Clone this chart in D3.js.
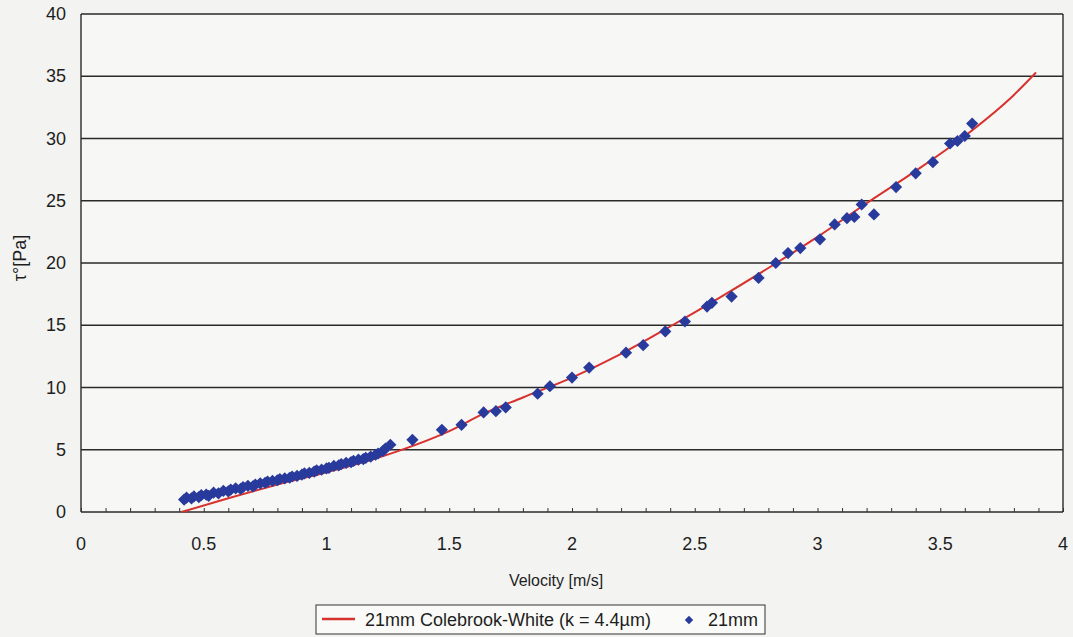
<!DOCTYPE html>
<html>
<head>
<meta charset="utf-8">
<script src="https://cdn.jsdelivr.net/npm/d3@7"></script>
<style>
  html, body { margin: 0; padding: 0; background: #f3f3f1; }
  svg { display: block; font-family: "Liberation Sans", Arial, sans-serif; }
</style>
</head>
<body>
<div id="chart"></div>
<script>
// Colebrook-White curve (velocity m/s, wall shear stress Pa)
const curveV   = [0.41, 0.6, 0.8, 1.0, 1.2, 1.3, 1.5, 1.64, 1.8, 2.0, 2.2, 2.4, 2.6, 2.8, 3.0, 3.2, 3.4, 3.6, 3.8, 3.89];
const curveTau = [0, 1.1, 2.2, 3.2, 4.3, 4.95, 6.5, 7.9, 9.2, 10.8, 12.7, 14.9, 17.2, 19.6, 22.1, 24.8, 27.4, 30.2, 33.5, 35.3];

// measured 21mm points
const measV = [0.42, 0.43, 0.45, 0.46, 0.48, 0.49, 0.51, 0.52, 0.54, 0.56, 0.58, 0.60, 0.61, 0.63, 0.65,
  0.66, 0.68, 0.70, 0.71, 0.73, 0.75, 0.76, 0.78, 0.80, 0.81, 0.83, 0.85, 0.86, 0.88, 0.90, 0.91, 0.93,
  0.95, 0.96, 0.98, 1.00, 1.01, 1.03, 1.05, 1.06, 1.08, 1.10, 1.11, 1.13, 1.15, 1.16, 1.18, 1.20, 1.21,
  1.23, 1.24, 1.26, 1.35, 1.47, 1.55, 1.64, 1.69, 1.73, 1.86, 1.91, 2.00, 2.07, 2.22, 2.29, 2.38, 2.46,
  2.55, 2.57, 2.65, 2.76, 2.83, 2.88, 2.93, 3.01, 3.07, 3.12, 3.15, 3.18, 3.23, 3.32, 3.40, 3.47, 3.54,
  3.57, 3.60, 3.63];
const measTau = [1.0, 1.15, 1.1, 1.25, 1.2, 1.35, 1.4, 1.3, 1.55, 1.5, 1.7, 1.65, 1.8, 1.9, 1.85,
  2.0, 2.1, 2.05, 2.2, 2.3, 2.35, 2.45, 2.5, 2.55, 2.65, 2.7, 2.75, 2.85, 2.9, 3.0, 3.1, 3.15,
  3.25, 3.35, 3.4, 3.5, 3.55, 3.7, 3.75, 3.85, 3.95, 4.0, 4.1, 4.2, 4.25, 4.35, 4.45, 4.6, 4.7,
  4.9, 5.1, 5.4, 5.8, 6.6, 7.0, 8.0, 8.1, 8.4, 9.5, 10.1, 10.8, 11.6, 12.8, 13.4, 14.5, 15.3,
  16.5, 16.8, 17.3, 18.8, 20.0, 20.8, 21.2, 21.9, 23.1, 23.6, 23.7, 24.7, 23.9, 26.1, 27.2, 28.1, 29.6,
  29.8, 30.2, 31.2];

const xTicks = [0, 0.5, 1, 1.5, 2, 2.5, 3, 3.5, 4];
const yTicks = [0, 5, 10, 15, 20, 25, 30, 35, 40];

const legendLine = "21mm Colebrook-White (k = 4.4\u00b5m)";
const legendDots = "21mm";

const width = 1073, height = 637;
const margin = { top: 14, right: 10, bottom: 125, left: 81 };

const x = d3.scaleLinear().domain([0, 4]).range([margin.left, width - margin.right]);
const y = d3.scaleLinear().domain([0, 40]).range([height - margin.bottom, margin.top]);

const svg = d3.select("#chart").append("svg")
    .attr("width", width)
    .attr("height", height);

// plot area
svg.append("rect")
    .attr("x", x(0)).attr("y", y(40))
    .attr("width", x(4) - x(0)).attr("height", y(0) - y(40))
    .attr("fill", "#f7f7f5");

// Grid lines
svg.append("g")
    .selectAll("line")
    .data(yTicks)
    .join("line")
    .attr("x1", x(0))
    .attr("x2", x(4))
    .attr("y1", d => y(d))
    .attr("y2", d => y(d))
    .attr("stroke", "#2a2a2a")
    .attr("stroke-width", 1.4);

// Frame (left and right)
svg.append("line")
    .attr("x1", x(0)).attr("x2", x(0))
    .attr("y1", y(0)).attr("y2", y(40))
    .attr("stroke", "#2a2a2a").attr("stroke-width", 1.4);
svg.append("line")
    .attr("x1", x(4)).attr("x2", x(4))
    .attr("y1", y(0)).attr("y2", y(40))
    .attr("stroke", "#2a2a2a").attr("stroke-width", 1.4);

// X axis minor ticks (inside)
svg.append("g")
    .attr("transform", `translate(0,${y(0)})`)
    .call(d3.axisTop(x).ticks(40).tickSize(4).tickFormat(""))
    .call(g => g.select(".domain").remove())
    .call(g => g.selectAll("line").attr("stroke", "#333"));

// X tick labels
svg.append("g")
    .selectAll("text")
    .data(xTicks)
    .join("text")
    .attr("x", d => x(d))
    .attr("y", y(0) + 38)
    .attr("text-anchor", "middle")
    .attr("font-size", "18px")
    .attr("fill", "#1e1e1e")
    .text(d => d);

// Y tick labels
svg.append("g")
    .selectAll("text")
    .data(yTicks)
    .join("text")
    .attr("x", x(0) - 15)
    .attr("y", d => y(d) + 6)
    .attr("text-anchor", "end")
    .attr("font-size", "18px")
    .attr("fill", "#1e1e1e")
    .text(d => d);

// Axis labels
svg.append("text")
    .attr("x", 556)
    .attr("y", 586)
    .attr("text-anchor", "middle")
    .attr("font-size", "16px")
    .attr("fill", "#1e1e1e")
    .text("Velocity [m/s]");

svg.append("text")
    .attr("transform", "rotate(-90)")
    .attr("x", -258)
    .attr("y", 26)
    .attr("text-anchor", "middle")
    .attr("font-size", "18px")
    .attr("fill", "#1e1e1e")
    .text("\u03c4\u00b0[Pa]");

// Curve
const curveData = curveV.map((v, i) => ({ v, t: curveTau[i] }));
svg.append("path")
    .datum(curveData)
    .attr("fill", "none")
    .attr("stroke", "#d8322f")
    .attr("stroke-width", 2)
    .attr("d", d3.line().x(d => x(d.v)).y(d => y(d.t)).curve(d3.curveMonotoneX));

// Measured points
const diamond = d3.symbol().type(d3.symbolDiamond2).size(95);
const pts = measV.map((v, i) => ({ v, t: measTau[i] }));
svg.append("g")
    .selectAll("path")
    .data(pts)
    .join("path")
    .attr("d", diamond)
    .attr("transform", d => `translate(${x(d.v)},${y(d.t)})`)
    .attr("fill", "#283a9c");

// Legend
const legend = svg.append("g").attr("transform", "translate(316,605)");
legend.append("rect")
    .attr("width", 449)
    .attr("height", 29)
    .attr("fill", "#fafaf8")
    .attr("stroke", "#333")
    .attr("stroke-width", 1);
legend.append("line")
    .attr("x1", 6).attr("x2", 39)
    .attr("y1", 14).attr("y2", 14)
    .attr("stroke", "#d8322f")
    .attr("stroke-width", 2.5);
legend.append("text")
    .attr("x", 49)
    .attr("y", 21)
    .attr("font-size", "18px")
    .attr("fill", "#1e1e1e")
    .text(legendLine);
legend.append("path")
    .attr("d", d3.symbol().type(d3.symbolDiamond2).size(45))
    .attr("transform", "translate(373,15)")
    .attr("fill", "#283a9c");
legend.append("text")
    .attr("x", 392)
    .attr("y", 21)
    .attr("font-size", "18px")
    .attr("fill", "#1e1e1e")
    .text(legendDots);
</script>
</body>
</html>
